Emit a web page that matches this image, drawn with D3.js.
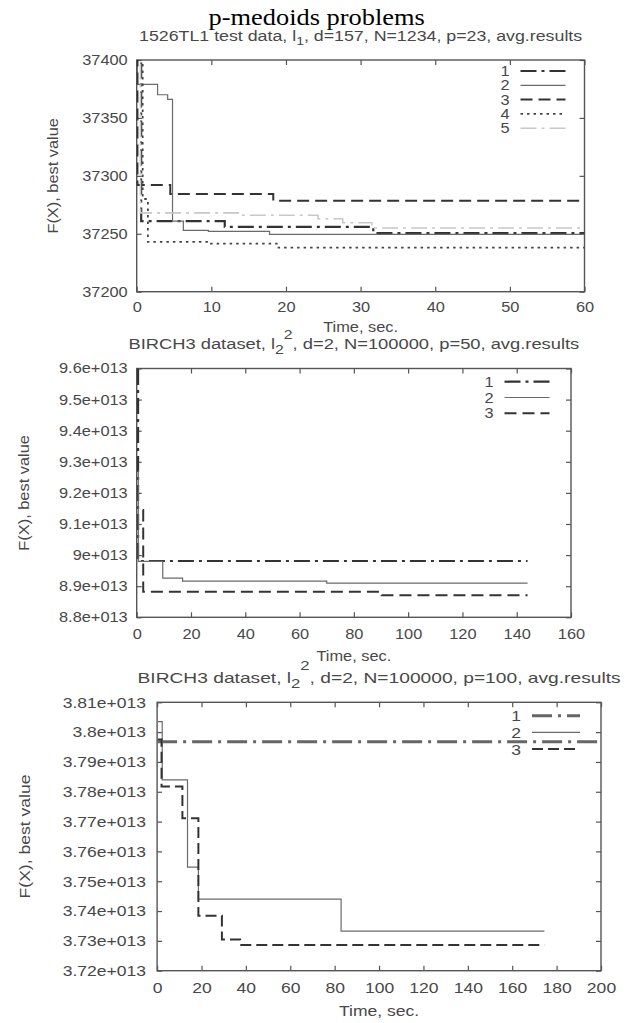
<!DOCTYPE html>
<html><head><meta charset="utf-8">
<script src="https://cdn.jsdelivr.net/npm/d3@7/dist/d3.min.js"></script>
<style>body{margin:0;background:#fff}svg{display:block}</style>
</head><body>
<svg id="chart" width="625" height="1023"></svg>
<script>
// ---------- DATA ----------
const seriesNames = ["1", "2", "3", "4", "5"];

// Panel 1: 1526TL1 test data
const p1XTicks = [0, 10, 20, 30, 40, 50, 60];
const p1YTicks = [37200, 37250, 37300, 37350, 37400];
const p1YTickLabels = ["37200", "37250", "37300", "37350", "37400"];
const p1S1 = [[0.15,37420],[0.6,37261],[11.8,37256],[31.7,37250.5],[60,37250.5]];
const p1S2 = [[0.05,37420],[0.1,37379],[2.8,37370],[4.15,37366],[4.8,37261],[6.25,37253],[9.6,37252],[17.8,37249.5],[60,37249.5]];
const p1S3 = [[0.05,37420],[0.1,37292],[4.5,37284.3],[18.3,37278.5],[60,37278.5]];
const p1S4 = [[0.1,37420],[0.8,37280],[1.5,37243],[9.6,37241.5],[19,37238],[60,37238]];
const p1S5 = [[0.2,37420],[0.5,37268],[14,37266],[24.3,37263],[27.6,37259.5],[31.5,37255],[60,37255]];

// Panel 2: BIRCH3, p=50
const p2XTicks = [0, 20, 40, 60, 80, 100, 120, 140, 160];
const p2YTicks = [8.8e13, 8.9e13, 9.0e13, 9.1e13, 9.2e13, 9.3e13, 9.4e13, 9.5e13, 9.6e13];
const p2YTickLabels = ["8.8e+013","8.9e+013","9e+013","9.1e+013","9.2e+013","9.3e+013","9.4e+013","9.5e+013","9.6e+013"];
const p2S1 = [[0.3,9.597e13],[0.5,8.981e13],[144,8.981e13]];
const p2S2 = [[0.4,9.27e13],[0.6,8.98e13],[9.6,8.926e13],[16.9,8.916e13],[70,8.91e13],[144,8.91e13]];
const p2S3 = [[2.2,9.145e13],[2.4,8.882e13],[90.2,8.871e13],[144,8.871e13]];

// Panel 3: BIRCH3, p=100
const p3XTicks = [0, 20, 40, 60, 80, 100, 120, 140, 160, 180, 200];
const p3YTicks = [3.72e13,3.73e13,3.74e13,3.75e13,3.76e13,3.77e13,3.78e13,3.79e13,3.80e13,3.81e13];
const p3YTickLabels = ["3.72e+013","3.73e+013","3.74e+013","3.75e+013","3.76e+013","3.77e+013","3.78e+013","3.79e+013","3.8e+013","3.81e+013"];
const p3S1 = [[0,3.7968e13],[200,3.7968e13]];
const p3S2 = [[0.4,3.8035e13],[2.3,3.784e13],[13.7,3.7547e13],[18.6,3.744e13],[82.9,3.7333e13],[174.5,3.7333e13]];
const p3S3 = [[0.3,3.7975e13],[2.0,3.7818e13],[11.4,3.7711e13],[18.6,3.7384e13],[29.2,3.7305e13],[37.4,3.7286e13],[174.5,3.7286e13]];

// ---------- STYLES / LAYOUT ----------
const SX = 1.17;
const TXT = "#484848";
const styles = {
  dashdot:  {stroke:"#333", width:2.2, dash:"16,5,3,5"},
  solid:    {stroke:"#6a6a6a", width:1.2, dash:null},
  dashed:   {stroke:"#333", width:2, dash:"12,6"},
  dotted:   {stroke:"#444", width:1.8, dash:"2.5,4"},
  lightdd:  {stroke:"#c8c8c8", width:1.6, dash:"16,5,3,5"},
  dashdotB: {stroke:"#666", width:3, dash:"20,6,3,6"},
  dashedB:  {stroke:"#333", width:2, dash:"11,5"}
};

const svg = d3.select("#chart");

function text(g, x, y, str, o = {}) {
  const t = g.append("text")
    .attr("transform", `translate(${x},${y})` + (o.rotate ? ` rotate(${o.rotate})` : "") + ` scale(${o.sx ?? SX},1)`)
    .attr("text-anchor", o.anchor || "middle")
    .attr("font-family", o.family || "Liberation Sans, Arial, sans-serif")
    .attr("font-size", o.size || 14)
    .attr("fill", o.fill || TXT);
  if (str !== null) t.text(str);
  return t;
}

function panel(cfg) {
  const g = svg.append("g");
  const x = d3.scaleLinear().domain(cfg.xDomain).range([cfg.left, cfg.right]);
  const y = d3.scaleLinear().domain(cfg.yDomain).range([cfg.bottom, cfg.top]);
  const fs = cfg.fontSize;

  const clipId = "clip" + cfg.id;
  svg.append("clipPath").attr("id", clipId).append("rect")
    .attr("x", cfg.left).attr("y", cfg.top)
    .attr("width", cfg.right - cfg.left).attr("height", cfg.bottom - cfg.top);

  // axes (inward ticks, mirrored)
  const axB = g.append("g").attr("transform", `translate(0,${cfg.bottom})`)
    .call(d3.axisBottom(x).tickValues(cfg.xTicks).tickSizeInner(-5).tickSizeOuter(0).tickPadding(cfg.xPad));
  const axT = g.append("g").attr("transform", `translate(0,${cfg.top})`)
    .call(d3.axisTop(x).tickValues(cfg.xTicks).tickSizeInner(-5).tickSizeOuter(0).tickFormat(""));
  const axL = g.append("g").attr("transform", `translate(${cfg.left},0)`)
    .call(d3.axisLeft(y).tickValues(cfg.yTicks).tickSizeInner(-5).tickSizeOuter(0).tickPadding(9)
      .tickFormat((d, i) => cfg.yLabels[i]));
  const axR = g.append("g").attr("transform", `translate(${cfg.right},0)`)
    .call(d3.axisRight(y).tickValues(cfg.yTicks).tickSizeInner(-5).tickSizeOuter(0).tickFormat(""));
  [axB, axT, axL, axR].forEach(a => {
    a.select(".domain").remove();
    a.selectAll("line").attr("stroke", "#555").attr("stroke-width", 1.2);
    a.selectAll("text").attr("fill", TXT).attr("font-size", fs)
      .attr("font-family", "Liberation Sans, Arial, sans-serif");
  });
  axB.selectAll("text").attr("transform", `scale(${SX},1)`);
  axL.selectAll("text").attr("x", -cfg.yPad / SX).attr("transform", `scale(${SX},1)`);

  // frame
  g.append("rect").attr("x", cfg.left).attr("y", cfg.top)
    .attr("width", cfg.right - cfg.left).attr("height", cfg.bottom - cfg.top)
    .attr("fill", "none").attr("stroke", "#555").attr("stroke-width", 1.4);

  // series
  const line = d3.line().x(d => x(d[0])).y(d => y(d[1])).curve(d3.curveStepAfter);
  const plot = g.append("g").attr("clip-path", `url(#${clipId})`);
  cfg.series.forEach(s => {
    const st = styles[s.style];
    plot.append("path").datum(s.data).attr("d", line)
      .attr("fill", "none").attr("stroke", st.stroke).attr("stroke-width", st.width)
      .attr("stroke-dasharray", st.dash);
  });

  // legend
  const lg = g.append("g");
  cfg.series.forEach((s, i) => {
    const ly = cfg.legY + i * cfg.legStep;
    const st = styles[s.style];
    text(lg, cfg.legX, ly + fs * 0.36, s.name, {anchor: "end", size: fs});
    lg.append("line").attr("x1", cfg.legX + 11).attr("x2", cfg.legX + 11 + cfg.legLen)
      .attr("y1", ly).attr("y2", ly)
      .attr("stroke", st.stroke).attr("stroke-width", st.width).attr("stroke-dasharray", st.dash);
  });

  // x label, y label
  text(g, (cfg.left + cfg.right) / 2, cfg.xLabelY, "Time, sec.", {size: fs});
  text(g, cfg.yLabelX, (cfg.top + cfg.bottom) / 2, "F(X), best value", {size: fs, rotate: -90});

  // subtitle
  const t = text(g, (cfg.left + cfg.right) / 2, cfg.subY, null, {size: fs, sx: cfg.subSX});
  cfg.subtitle(t);
}

// Title
text(svg, 316.7, 25, "p-medoids problems", {family: "Liberation Serif, Times New Roman, serif", size: 24, fill: "#000", sx: 1.1});

panel({
  id: 1, xDomain: [0, 60], yDomain: [37200, 37400],
  left: 136.7, right: 584.5, top: 60, bottom: 291.7, fontSize: 14, xPad: 10, yPad: 9,
  xTicks: p1XTicks, yTicks: p1YTicks, yLabels: p1YTickLabels,
  series: [
    {name: seriesNames[0], data: p1S1, style: "dashdot"},
    {name: seriesNames[1], data: p1S2, style: "solid"},
    {name: seriesNames[2], data: p1S3, style: "dashed"},
    {name: seriesNames[3], data: p1S4, style: "dotted"},
    {name: seriesNames[4], data: p1S5, style: "lightdd"}
  ],
  legX: 509.5, legY: 71, legStep: 14.3, legLen: 45,
  xLabelY: 331.5, yLabelX: 58, subY: 40.5, subSX: 1.27,
  subtitle: t => {
    t.append("tspan").text("1526TL1 test data, l");
    t.append("tspan").attr("font-size", 11).attr("dy", 4).text("1");
    t.append("tspan").attr("dy", -4).text(", d=157, N=1234, p=23, avg.results");
  }
});

panel({
  id: 2, xDomain: [0, 160], yDomain: [8.8e13, 9.6e13],
  left: 136.7, right: 571, top: 368.5, bottom: 617.3, fontSize: 14, xPad: 12, yPad: 9,
  xTicks: p2XTicks, yTicks: p2YTicks, yLabels: p2YTickLabels,
  series: [
    {name: seriesNames[0], data: p2S1, style: "dashdot"},
    {name: seriesNames[1], data: p2S2, style: "solid"},
    {name: seriesNames[2], data: p2S3, style: "dashed"}
  ],
  legX: 493.5, legY: 381.7, legStep: 15.8, legLen: 45,
  xLabelY: 661, yLabelX: 28.5, subY: 349, subSX: 1.31,
  subtitle: t => {
    t.append("tspan").text("BIRCH3 dataset, l");
    t.append("tspan").attr("font-size", 12).attr("dy", 5).text("2");
    t.append("tspan").attr("font-size", 12).attr("dy", -15).text("2");
    t.append("tspan").attr("dy", 10).text(", d=2, N=100000, p=50, avg.results");
  }
});

panel({
  id: 3, xDomain: [0, 200], yDomain: [3.72e13, 3.81e13],
  left: 157.1, right: 601, top: 702.3, bottom: 970.7, fontSize: 15, xPad: 12, yPad: 11,
  xTicks: p3XTicks, yTicks: p3YTicks, yLabels: p3YTickLabels,
  series: [
    {name: seriesNames[0], data: p3S1, style: "dashdotB"},
    {name: seriesNames[1], data: p3S2, style: "solid"},
    {name: seriesNames[2], data: p3S3, style: "dashedB"}
  ],
  legX: 521, legY: 715.7, legStep: 16.7, legLen: 48,
  xLabelY: 1015.5, yLabelX: 30, subY: 682.5, subSX: 1.28,
  subtitle: t => {
    t.append("tspan").text("BIRCH3 dataset, l");
    t.append("tspan").attr("font-size", 13).attr("dy", 5).text("2");
    t.append("tspan").attr("font-size", 13).attr("dy", -18).text("2");
    t.append("tspan").attr("dy", 13).text(", d=2, N=100000, p=100, avg.results");
  }
});
</script>
</body></html>
